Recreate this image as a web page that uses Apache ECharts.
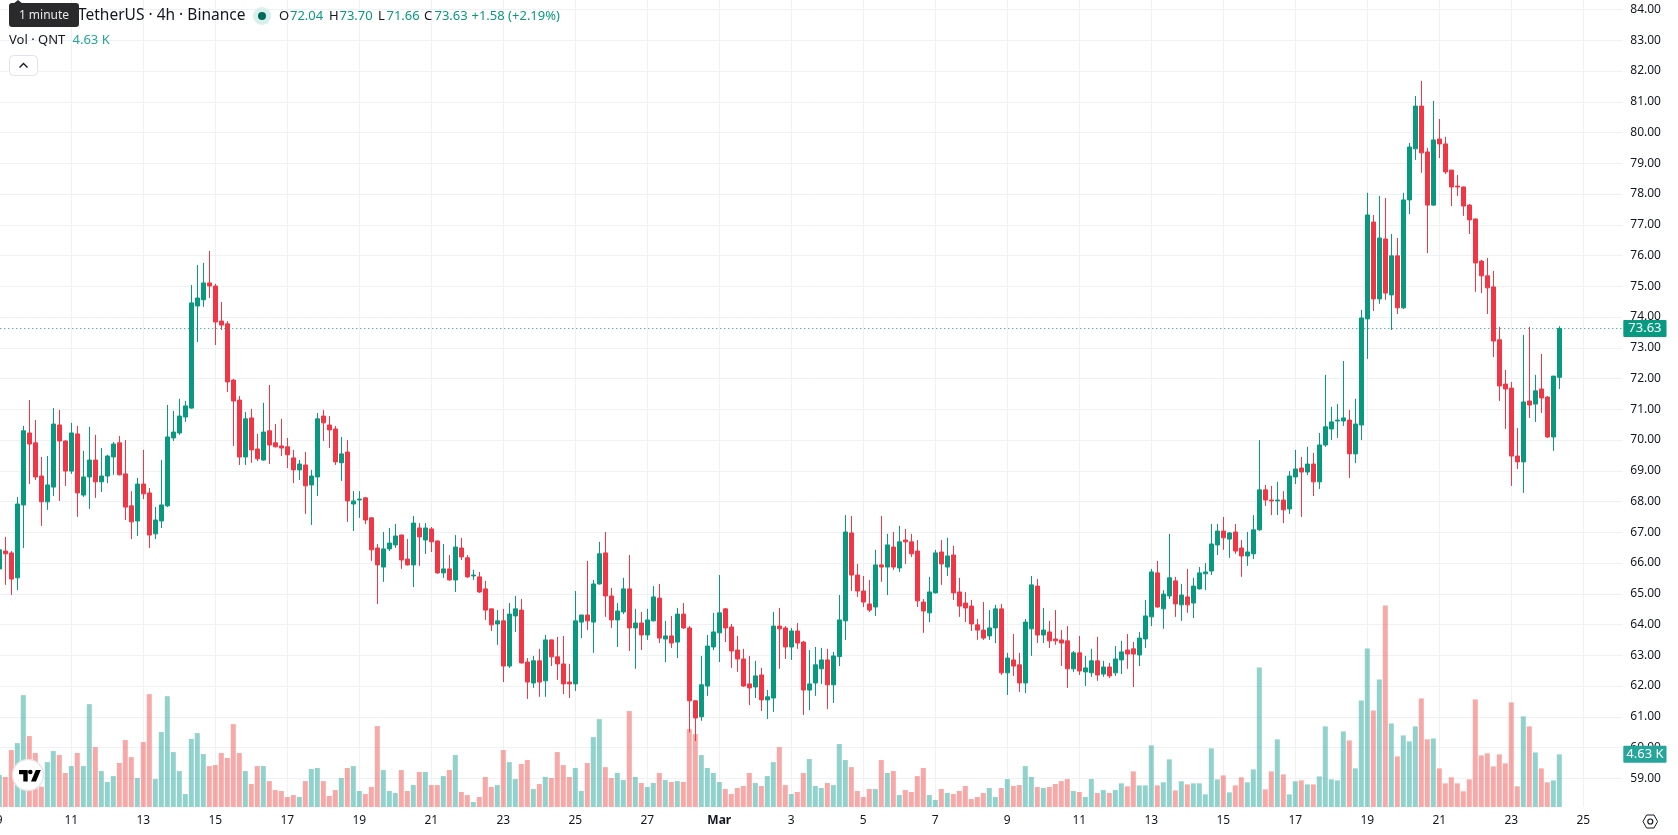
<!DOCTYPE html>
<html>
<head>
<meta charset="utf-8">
<title>QNT / TetherUS 4h</title>
<style>
  html, body { margin: 0; padding: 0; background: #fff; }
  #chart { width: 1678px; height: 835px; }
</style>
<script src="https://cdn.jsdelivr.net/npm/echarts@6/dist/echarts.min.js"></script>
</head>
<body>
<div id="chart"></div>
<script>
// Day labels, one every two days along the time scale.
const dayLabels = ['9','11','13','15','17','19','21','23','25','27','Mar','3','5','7','9','11','13','15','17','19','21','23','25'];

// 4h candles for QNT/USDT.
const opens = [65.81,
66.39,66.33,65.52,67.89,70.23,69.91,68.83,67.99,68.47,70.49,
69.97,68.99,70.20,68.21,68.80,69.35,68.64,68.83,69.45,69.91,
68.90,67.86,67.37,68.57,68.28,66.95,67.37,67.86,70.07,70.23,
70.75,71.04,74.36,74.56,75.11,75.01,73.87,73.78,71.95,71.30,
69.45,70.72,69.71,69.35,70.30,69.91,69.81,69.78,69.42,69.03,
69.19,68.54,68.80,70.78,70.49,70.36,69.26,69.61,67.92,68.05,
68.12,67.47,66.49,65.87,66.46,66.59,66.91,66.13,65.94,67.14,
66.75,67.11,66.72,65.68,65.81,65.45,66.49,66.17,65.58,65.55,
65.16,64.51,64.02,64.12,62.65,64.28,64.47,62.78,62.10,62.82,
62.17,63.50,62.95,62.72,62.13,62.07,64.08,64.31,64.08,65.32,
66.33,64.93,64.15,64.41,65.16,63.89,64.05,63.66,64.12,64.86,
63.53,63.63,63.43,64.34,63.89,61.52,61.00,62.00,63.27,63.73,
64.51,63.92,63.17,62.88,62.07,61.97,62.36,61.55,61.61,63.95,
63.89,63.27,63.79,63.43,61.87,62.10,62.56,62.85,62.04,62.96,
64.12,66.98,65.61,65.09,64.67,64.57,65.94,65.87,66.52,65.84,
66.75,66.69,66.39,64.73,64.38,65.03,66.36,65.87,66.26,65.06,
64.70,64.60,63.99,63.82,63.63,63.89,64.51,62.43,62.85,62.69,
62.10,63.86,65.25,63.66,63.76,63.53,63.50,63.47,62.56,63.08,
62.46,62.43,62.82,62.39,62.62,62.43,62.85,63.17,63.21,63.01,
63.53,64.25,65.68,64.51,64.93,65.42,64.64,64.90,64.70,65.16,
65.65,65.74,66.59,67.04,66.78,67.01,66.49,66.23,66.30,67.08,
68.38,68.05,68.02,68.05,67.76,68.80,69.09,68.96,69.22,68.64,
69.84,70.36,70.62,70.62,70.65,69.55,70.49,73.94,77.09,74.59,
76.54,74.72,75.99,74.30,77.81,79.47,80.86,79.37,77.64,79.79,
79.63,78.78,78.26,78.23,77.64,77.19,75.82,75.34,74.98,73.26,
71.82,71.69,69.48,69.29,71.27,71.17,71.66,71.40,70.10,72.04];

const highs = [67.00,
66.85,66.39,68.15,70.46,71.30,70.65,69.45,69.48,71.04,70.98,
70.00,70.56,70.46,69.65,70.43,70.17,69.74,69.52,69.94,70.13,
70.00,68.34,68.77,69.68,68.44,67.82,69.35,71.14,70.95,71.34,
71.27,75.04,75.69,75.76,76.15,75.08,74.49,73.87,71.99,71.43,
70.91,71.01,70.20,71.21,71.79,70.52,70.69,70.07,69.68,69.35,
69.61,69.03,70.88,70.98,70.78,70.46,70.10,70.00,68.34,68.34,
68.15,67.49,66.62,67.01,67.14,67.27,66.93,66.78,67.53,67.30,
67.30,67.17,66.73,66.62,66.26,66.91,66.82,66.26,65.78,65.71,
65.42,64.52,64.47,64.51,64.70,64.93,64.83,62.91,62.98,63.21,
63.66,63.51,63.60,63.63,62.72,65.09,64.31,66.07,65.45,66.69,
67.01,65.19,64.70,65.52,66.26,64.51,64.41,64.51,65.25,65.32,
64.12,64.28,64.54,64.70,63.95,61.53,62.98,63.66,64.38,65.61,
64.54,64.02,63.63,63.21,62.98,62.82,62.59,61.87,64.41,64.54,
63.95,63.89,64.05,63.47,63.17,63.27,63.24,63.21,63.11,64.96,
67.56,67.53,65.97,65.58,65.45,66.43,67.53,66.95,67.01,67.21,
67.11,66.95,66.75,64.83,65.55,66.43,66.75,66.82,66.56,65.52,
65.06,64.80,64.18,64.73,64.47,64.64,64.67,63.08,63.69,63.08,
64.18,65.58,65.48,64.54,64.12,64.47,63.82,63.95,63.14,63.63,
62.98,63.21,63.60,62.82,62.75,63.30,63.47,63.69,63.43,63.76,
64.80,65.81,66.07,65.12,66.95,65.55,65.32,65.81,65.52,65.87,
66.00,67.27,67.27,67.50,67.01,67.27,66.75,67.01,67.56,70.00,
68.54,68.51,68.64,68.34,68.99,69.68,69.45,69.78,69.58,70.23,
72.12,71.08,71.17,72.57,70.98,71.34,74.23,78.04,77.32,77.94,
77.87,76.70,76.57,78.04,79.66,81.19,81.68,79.50,81.03,80.44,
79.86,78.78,78.62,78.24,77.68,77.20,75.86,75.92,75.50,73.68,
72.28,71.89,70.39,73.42,73.68,72.12,72.80,71.43,72.08,73.70];

const lows = [65.00,
65.29,64.96,65.12,66.49,68.57,68.70,67.21,67.73,68.18,68.02,
68.51,68.90,67.50,68.15,67.76,68.12,68.31,68.60,68.87,68.85,
67.40,66.78,66.88,68.08,66.49,66.78,67.14,67.82,69.97,70.17,
70.59,71.02,73.19,74.33,74.62,73.09,73.58,71.56,69.81,69.19,
69.19,69.26,69.32,69.33,69.22,69.76,69.48,69.09,68.60,68.70,
67.60,67.24,68.18,69.97,69.74,69.19,68.67,67.34,67.04,67.47,
67.27,66.07,64.67,65.39,66.39,66.49,65.81,65.92,65.22,65.91,
66.30,66.36,65.65,65.52,65.43,65.06,66.10,65.52,65.45,65.03,
64.15,63.79,63.34,62.13,62.59,63.76,62.74,61.58,61.94,61.65,
61.65,62.65,62.20,61.74,61.61,61.84,63.56,63.82,63.08,65.30,
64.25,63.89,63.27,64.34,63.14,62.56,63.17,63.50,64.10,63.40,
62.78,63.24,62.91,63.86,60.49,60.21,60.87,61.68,63.17,62.78,
63.43,62.59,62.46,61.97,61.38,61.61,61.19,60.93,61.16,62.56,
62.88,62.85,63.21,61.06,61.22,61.68,62.07,61.25,61.45,62.65,
63.50,65.09,64.90,64.57,64.41,64.28,65.39,64.96,65.78,65.71,
65.97,66.20,64.57,63.73,64.08,65.01,65.29,65.58,64.80,64.25,
64.08,63.79,63.50,63.50,63.50,63.40,62.36,61.71,62.33,61.81,
61.77,62.98,63.40,63.40,63.24,63.34,62.65,61.94,62.46,62.36,
62.00,62.30,62.17,62.30,62.26,62.33,62.39,62.56,61.97,62.65,
63.24,63.95,64.55,63.86,64.83,64.25,64.12,64.38,64.21,65.14,
65.12,65.61,66.26,66.43,66.17,66.30,65.55,65.91,66.13,67.05,
67.86,67.56,67.56,67.30,67.60,68.57,67.50,68.86,68.18,68.41,
69.78,70.00,70.07,70.46,68.77,69.25,70.00,72.64,74.20,74.43,
74.56,73.58,74.10,74.26,77.35,79.11,78.69,76.08,77.62,79.17,
78.65,77.61,77.94,77.29,76.70,74.82,74.78,74.10,72.70,71.27,
70.36,68.51,69.06,68.28,70.72,70.59,70.88,70.07,69.65,71.66];

const closes = [66.43,
66.30,65.48,67.92,70.30,69.87,68.80,67.99,68.54,70.52,69.97,
68.99,70.23,68.28,68.80,69.35,68.64,68.83,69.48,69.87,68.87,
67.82,67.34,68.57,68.25,66.91,67.40,67.89,70.10,70.26,70.78,
71.11,74.46,74.62,75.11,75.01,73.84,73.74,71.89,71.27,69.45,
70.69,69.68,69.39,70.26,69.84,69.78,69.74,69.52,69.03,69.22,
68.51,68.83,70.69,70.56,70.33,69.29,69.55,68.02,68.02,68.08,
67.40,66.43,65.94,66.46,66.65,66.88,66.10,65.94,67.30,66.85,
67.14,66.69,65.68,65.81,65.45,66.52,66.20,65.55,65.61,65.06,
64.47,63.99,64.12,62.65,64.34,64.51,62.75,62.13,62.82,62.13,
63.50,62.95,62.72,62.07,62.07,64.12,64.31,64.12,65.32,66.30,
64.93,64.15,64.44,65.16,63.89,64.05,63.66,64.15,64.90,63.56,
63.63,63.40,64.34,63.89,61.52,60.96,62.04,63.30,63.76,64.38,
63.89,63.14,62.88,62.00,61.94,62.33,61.55,61.65,63.95,63.86,
63.27,63.79,63.40,61.87,62.07,62.69,62.85,62.04,62.98,64.15,
67.01,65.61,65.09,64.73,64.47,65.94,65.87,66.59,65.87,66.69,
66.69,66.30,64.77,64.44,65.06,66.33,65.97,66.23,65.03,64.60,
64.54,64.02,63.82,63.56,63.89,64.51,62.43,62.91,62.65,62.10,
64.08,65.29,63.66,63.82,63.47,63.47,63.40,62.56,63.08,62.49,
62.59,62.82,62.36,62.62,62.33,62.88,63.11,63.04,63.04,63.56,
64.28,65.71,64.57,64.99,65.52,64.67,64.96,64.64,65.25,65.68,
65.71,66.62,67.04,66.82,66.98,66.39,66.23,66.36,67.08,68.38,
68.05,68.02,68.05,67.73,68.83,69.06,68.96,69.22,68.64,69.84,
70.43,70.59,70.65,70.72,69.55,70.52,73.97,77.32,74.59,76.57,
74.78,75.99,74.30,77.81,79.53,80.86,79.34,77.64,79.76,79.63,
78.72,78.23,78.23,77.61,77.16,75.76,75.34,74.95,73.22,71.76,
71.66,69.48,69.29,71.24,71.14,71.60,71.37,70.10,72.08,73.63];

// Traded volume per candle, in thousands of QNT.
const volumes = [2.81,
2.64,5.01,5.62,9.84,6.24,4.75,1.79,3.95,4.92,4.57,
2.99,3.60,4.75,3.60,9.05,5.27,3.16,2.20,2.72,3.87,
5.89,4.39,2.55,5.71,9.93,2.46,6.59,9.75,4.83,3.16,
1.14,5.98,6.50,4.66,3.60,3.69,4.75,4.31,7.29,4.75,
3.16,2.02,3.60,3.60,2.28,1.49,1.41,0.88,1.05,0.88,
2.28,3.34,3.43,2.28,0.97,1.49,2.55,3.43,3.60,1.41,
1.14,1.76,7.12,3.25,1.41,1.23,3.25,1.41,1.93,3.08,
3.08,1.93,1.93,2.72,3.25,4.57,1.32,1.05,0.44,0.88,
2.64,1.76,1.93,5.01,3.95,2.46,3.78,4.13,1.58,2.02,
2.64,2.55,4.83,3.69,2.64,3.43,1.41,3.87,6.15,7.73,
3.51,2.55,2.99,2.37,8.44,2.64,2.11,1.76,2.11,2.99,
2.37,2.20,2.28,2.20,6.85,6.41,4.57,3.43,2.99,2.20,
1.58,1.14,1.67,1.85,2.99,2.11,1.85,2.72,3.95,5.27,
1.93,1.14,1.32,2.99,4.22,1.85,1.67,2.11,1.93,5.54,
4.13,3.51,1.41,0.88,1.58,1.58,4.13,2.99,3.16,1.05,
1.49,1.32,2.72,3.43,1.05,0.62,1.58,1.23,1.14,1.41,
1.85,0.70,0.88,1.23,1.67,0.88,1.67,2.46,1.85,1.93,
3.60,2.64,1.76,1.67,1.76,2.02,2.28,2.46,1.41,1.32,
0.88,2.46,1.23,1.49,1.23,1.49,2.08,1.82,3.13,1.90,
1.90,5.42,1.90,2.17,4.19,1.46,2.26,1.99,2.08,2.08,
1.11,5.16,2.43,2.78,1.29,1.90,2.61,2.17,3.31,12.27,
1.55,3.13,5.95,2.87,1.11,2.26,2.34,1.99,1.99,2.69,
7.09,2.43,2.34,6.65,5.86,3.40,9.37,13.94,8.49,11.22,
17.72,7.35,4.45,6.30,5.77,7.09,9.55,5.95,6.03,3.40,
2.08,2.61,2.08,1.38,2.43,9.46,4.54,4.72,3.57,4.63,
3.84,9.20,1.82,7.97,7.09,4.80,3.40,2.17,2.34,4.63];

const SLOTS = 271;          // candles plus the empty space to the right of the last one
const DAY_SLOTS = 12;       // a labelled day every 12 candles (two days of 4h bars)
const UP = '#089981', DOWN = '#F23645';
const VOL_UP = 'rgba(38,166,154,0.5)', VOL_DOWN = 'rgba(239,83,80,0.5)';
const INK = '#131722', TEAL = '#26a69a', GRID = '#f0f1f4';
const FONT = '"Noto Sans", sans-serif';

const categories = Array.from({ length: SLOTS }, (_, i) =>
  i % DAY_SLOTS === 0 && i / DAY_SLOTS < dayLabels.length ? dayLabels[i / DAY_SLOTS] : '');
const candleData = opens.map((o, i) => [o, closes[i], lows[i], highs[i]]);
const volumeData = volumes.map((v, i) => ({
  value: v,
  itemStyle: { color: closes[i] >= opens[i] ? VOL_UP : VOL_DOWN }
}));

const lastClose = closes[closes.length - 1];
const lastVolume = volumes[volumes.length - 1];
const lastOpen = opens[opens.length - 1];
const lastHigh = highs[highs.length - 1];
const lastLow = lows[lows.length - 1];

function legendText(x, y, text, fill, size, weight) {
  return {
    type: 'text', x, y, z: 100, silent: true,
    style: { text, fill, font: `${weight || 'normal'} ${size}px ${FONT}`, textVerticalAlign: 'middle' }
  };
}

const overlay = [
  // Symbol line
  legendText(78, 16, 'TetherUS · 4h · Binance', INK, 15.5),
  { type: 'circle', z: 100, silent: true, shape: { cx: 262, cy: 16, r: 9 }, style: { fill: '#d9efeb' } },
  { type: 'circle', z: 101, silent: true, shape: { cx: 262, cy: 16, r: 4 }, style: { fill: '#006b5b' } },
  legendText(279, 16, 'O', INK, 13),
  legendText(290, 16, lastOpen.toFixed(2), UP, 13),
  legendText(329, 16, 'H', INK, 13),
  legendText(339.5, 16, lastHigh.toFixed(2), UP, 13),
  legendText(378, 16, 'L', INK, 13),
  legendText(386.5, 16, lastLow.toFixed(2), UP, 13),
  legendText(424, 16, 'C', INK, 13),
  legendText(434.5, 16, lastClose.toFixed(2), UP, 13),
  legendText(471.5, 16, '+1.58 (+2.19%)', UP, 13),
  // Volume line
  legendText(9, 40.5, 'Vol · QNT', INK, 13),
  legendText(72.5, 40.5, '4.63 K', TEAL, 13),
  // Collapse button
  { type: 'rect', z: 100, silent: true, shape: { x: 9.5, y: 55.5, width: 28, height: 20, r: 4 },
    style: { fill: '#fff', stroke: '#e0e3eb', lineWidth: 1 } },
  { type: 'polyline', z: 101, silent: true, shape: { points: [[19.5, 67.5], [23.5, 63.5], [27.5, 67.5]] },
    style: { fill: 'none', stroke: INK, lineWidth: 1.4 } },
  // Hover hint
  { type: 'polygon', z: 110, silent: true, shape: { points: [[13, 4], [18, 0], [23, 4]] }, style: { fill: '#2a2a2c' } },
  { type: 'rect', z: 110, silent: true, shape: { x: 9, y: 3, width: 70, height: 24, r: 3 }, style: { fill: '#2a2a2c' } },
  { type: 'text', z: 111, silent: true, x: 44, y: 15.5,
    style: { text: '1 minute', fill: '#e8e8e8', font: `12px ${FONT}`, textAlign: 'center', textVerticalAlign: 'middle' } },
  // Attribution badge
  { type: 'circle', z: 100, silent: true, shape: { cx: 28, cy: 775, r: 15.5 },
    style: { fill: '#fff', stroke: 'rgba(230,230,230,0.9)', lineWidth: 1.5 } },
  { type: 'polygon', z: 101, silent: true, shape: { points: [[19, 770], [27.7, 770], [27.7, 781.5], [23.3, 781.5], [23.3, 774.3], [19, 774.3]] },
    style: { fill: '#000' } },
  { type: 'circle', z: 101, silent: true, shape: { cx: 30.3, cy: 772, r: 2.3 }, style: { fill: '#000' } },
  { type: 'polygon', z: 101, silent: true, shape: { points: [[35.8, 770], [40.8, 770], [36, 781.5], [31, 781.5]] },
    style: { fill: '#000' } },
  // Scale settings glyph
  { type: 'polygon', z: 100, silent: true,
    shape: { points: [[1643, 821.5], [1646.6, 815], [1654, 815], [1657.6, 821.5], [1654, 828], [1646.6, 828]] },
    style: { fill: 'none', stroke: INK, lineWidth: 1 } },
  { type: 'circle', z: 100, silent: true, shape: { cx: 1650.3, cy: 821.5, r: 2.5 },
    style: { fill: 'none', stroke: INK, lineWidth: 1.2 } }
];

const chart = echarts.init(document.getElementById('chart'), null, { renderer: 'canvas' });
chart.setOption({
  animation: false,
  backgroundColor: '#fff',
  textStyle: { fontFamily: FONT },
  grid: [
    // Full pane: volume bars, vertical grid lines and the time labels.
    { left: -3.7, top: 0, width: 1626, height: 807, outerBoundsMode: 'none' },
    // Price pane, spanning the labelled 59 to 84 range.
    { left: -3.7, top: 9.55, width: 1626, height: 768.75, outerBoundsMode: 'none' }
  ],
  xAxis: [
    {
      type: 'category', gridIndex: 0, data: categories, boundaryGap: true,
      axisLine: { show: false }, axisTick: { show: false },
      axisLabel: {
        interval: DAY_SLOTS - 1, margin: 8, color: INK, fontSize: 12, fontFamily: FONT,
        hideOverlap: false,
        formatter: v => v === 'Mar' ? '{b|Mar}' : v,
        rich: { b: { fontWeight: 'bold', color: INK, fontSize: 12, fontFamily: FONT } }
      },
      splitLine: { show: true, interval: DAY_SLOTS - 1, alignWithLabel: true, lineStyle: { color: GRID, width: 1 } }
    },
    {
      type: 'category', gridIndex: 1, data: categories, boundaryGap: true,
      axisLine: { show: false }, axisTick: { show: false }, axisLabel: { show: false }, splitLine: { show: false }
    }
  ],
  yAxis: [
    { type: 'value', gridIndex: 0, min: 0, max: 71, show: false, splitLine: { show: false } },
    {
      type: 'value', gridIndex: 1, position: 'right', min: 59, max: 84, interval: 1,
      axisLine: { show: false }, axisTick: { show: false },
      axisLabel: { color: INK, fontSize: 12, margin: 8, fontFamily: FONT, formatter: v => v.toFixed(2) },
      splitLine: { show: true, lineStyle: { color: GRID, width: 1 } }
    }
  ],
  series: [
    {
      name: 'Volume', type: 'bar', xAxisIndex: 0, yAxisIndex: 0, data: volumeData, barWidth: 5, z: 2,
      markLine: {
        silent: true, symbol: 'none', animation: false,
        data: [{ yAxis: lastVolume }],
        lineStyle: { opacity: 0 },
        label: {
          show: true, position: 'end', distance: 1,
          formatter: lastVolume.toFixed(2) + ' K',
          backgroundColor: TEAL, color: '#fff', fontSize: 13, fontFamily: FONT,
          padding: [2, 3], borderRadius: 1, opacity: 1
        }
      }
    },
    {
      name: 'QNTUSDT', type: 'candlestick', xAxisIndex: 1, yAxisIndex: 1, data: candleData, barWidth: 5, z: 3,
      itemStyle: { color: UP, color0: DOWN, borderColor: UP, borderColor0: DOWN, borderWidth: 1 },
      markLine: {
        silent: true, symbol: 'none', animation: false,
        data: [{ yAxis: lastClose }],
        lineStyle: { color: UP, type: [1, 3], width: 1 },
        label: {
          show: true, position: 'end', distance: 1,
          formatter: lastClose.toFixed(2),
          backgroundColor: UP, color: '#fff', fontSize: 13, fontFamily: FONT,
          padding: [2, 5], borderRadius: 1
        }
      }
    }
  ],
  graphic: { elements: overlay }
});
</script>
</body>
</html>
